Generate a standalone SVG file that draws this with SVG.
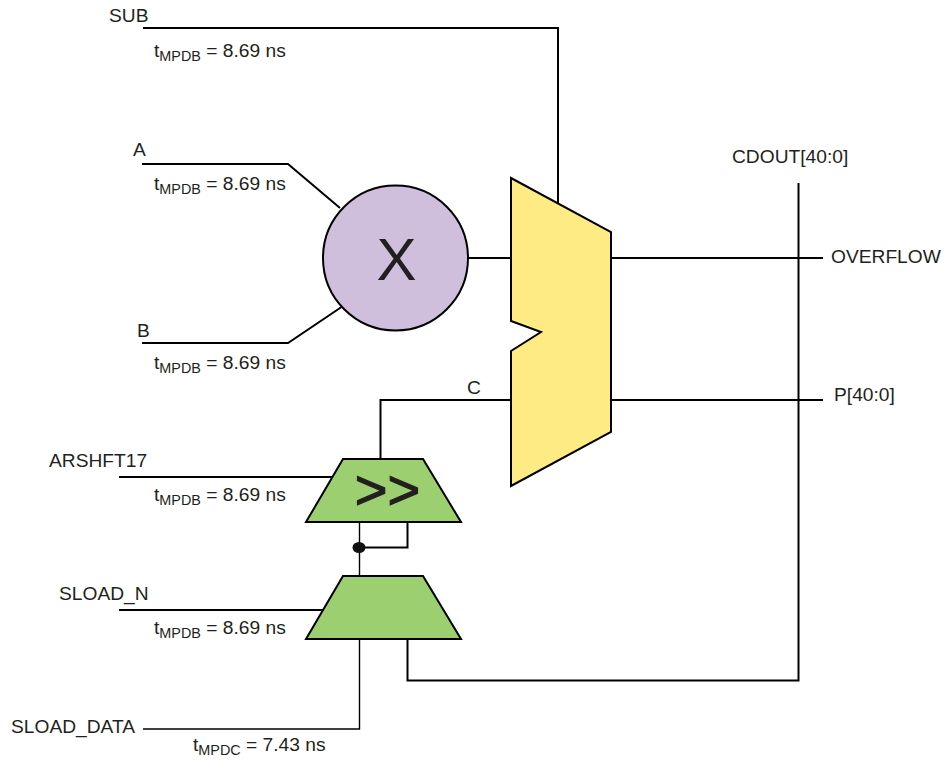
<svg xmlns="http://www.w3.org/2000/svg" width="947" height="764" viewBox="0 0 947 764">
<style>
text{font-family:"Liberation Sans",Arial,sans-serif;font-size:19.2px;fill:#231f20}
.sub{font-size:14.4px}
.w{fill:none;stroke:#000;stroke-width:2}
.t{fill:none;stroke:#000;stroke-width:1.4}
.s{stroke:#000;stroke-width:2;stroke-linejoin:miter}
.g{fill:#9ccf6f}
</style>
<rect width="947" height="764" fill="#fff"/>
<g id="connectors">
<path class="w" d="M143 28H558V205"/>
<path class="w" d="M142 164H288L340 208"/>
<path class="w" d="M142 343H288L343 306"/>
<path class="w" d="M468 258H511"/>
<path class="w" d="M611 258H823"/>
<path class="w" d="M611 400H823"/>
<path class="w" d="M511 400H380.500V459"/>
<path class="w" d="M798.500 183V680.500H407.500V639"/>
<path class="w" d="M407.500 522V547.500H360"/>
<path class="w" d="M119 477H334"/>
<path class="t" d="M359.500 522V575"/>
<path class="w" d="M119 610H325"/>
<path class="t" d="M143 729H359.500V639"/>
</g>
<g id="node-mult">
<circle class="s" cx="395.500" cy="258" r="72.500" fill="#cfbfdd"/>
<text x="396.500" y="280" text-anchor="middle" style="font-size:60px">X</text>
</g>
<g id="node-adder">
<path class="s" fill="#feeb83" d="M511 178L611 232V432L511 486V351L541 332L511 321Z"/>
</g>
<g id="node-shift">
<path class="s g" d="M343 459H423L461 522H306Z"/>
<text x="387.500" y="509" text-anchor="middle" style="font-size:56px;stroke:#231f20;stroke-width:1.2">&gt;&gt;</text>
</g>
<g id="node-dot"><ellipse cx="359" cy="547.500" rx="6.500" ry="5.500" fill="#111"/></g>
<g id="node-load">
<path class="s g" d="M343 576H423L461 639H306Z"/>
</g>
<g id="labels">
<text x="109" y="22">SUB</text>
<text x="154" y="57">t<tspan class="sub" dy="4">MPDB</tspan><tspan dy="-4"> = 8.69 ns</tspan></text>
<text x="133" y="156">A</text>
<text x="154" y="190">t<tspan class="sub" dy="4">MPDB</tspan><tspan dy="-4"> = 8.69 ns</tspan></text>
<text x="137" y="337">B</text>
<text x="154" y="369">t<tspan class="sub" dy="4">MPDB</tspan><tspan dy="-4"> = 8.69 ns</tspan></text>
<text x="467" y="394">C</text>
<text x="49" y="467">ARSHFT17</text>
<text x="154" y="501">t<tspan class="sub" dy="4">MPDB</tspan><tspan dy="-4"> = 8.69 ns</tspan></text>
<text x="59" y="600">SLOAD_N</text>
<text x="154" y="634">t<tspan class="sub" dy="4">MPDB</tspan><tspan dy="-4"> = 8.69 ns</tspan></text>
<text x="11" y="733">SLOAD_DATA</text>
<text x="193" y="751">t<tspan class="sub" dy="4">MPDC</tspan><tspan dy="-4"> = 7.43 ns</tspan></text>
<text x="732" y="163">CDOUT[40:0]</text>
<text x="831" y="263">OVERFLOW</text>
<text x="834" y="401">P[40:0]</text>
</g>
</svg>
